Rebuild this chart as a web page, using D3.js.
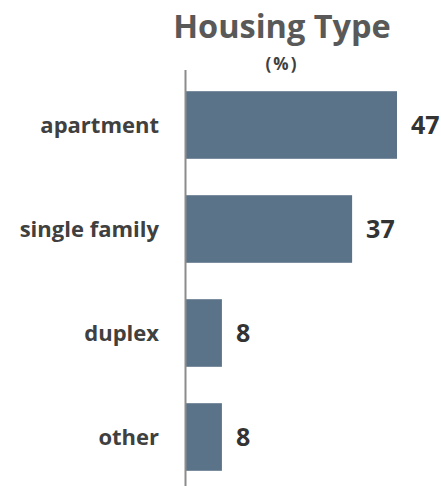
<!DOCTYPE html>
<html>
<head>
<meta charset="utf-8">
<script src="https://cdn.jsdelivr.net/npm/d3@7"></script>
<style>
  body { margin: 0; background: #fff; }
</style>
</head>
<body>
<svg id="chart"></svg>
<script>
const categories = ["apartment", "single family", "duplex", "other"];
const values = [47, 37, 8, 8];
const title = "Housing Type";
const subtitle = "(%)";

const width = 441;
const height = 486;
const font = "'Open Sans', Lato, sans-serif";

const svg = d3.select("#chart").attr("width", width).attr("height", height);

const x = d3.scaleLinear().domain([0, 47]).range([186, 397]);
const y = d3.scaleBand().domain(categories).range([73, 489])
    .paddingInner(0.35).paddingOuter(0.175);

svg.append("text")
    .attr("x", 282)
    .attr("y", 38)
    .attr("text-anchor", "middle")
    .attr("font-family", font)
    .attr("font-weight", "bold")
    .attr("font-size", "32.5px")
    .attr("fill", "#595959")
    .text(title);

svg.append("text")
    .attr("x", 282)
    .attr("y", 70)
    .attr("text-anchor", "middle")
    .attr("font-family", font)
    .attr("font-weight", "bold")
    .attr("font-size", "17px")
    .attr("letter-spacing", "2px")
    .attr("fill", "#404040")
    .text(subtitle);

svg.append("g").selectAll("rect")
    .data(values)
    .enter()
    .append("rect")
    .attr("x", x(0))
    .attr("y", function (d, i) { return y(categories[i]); })
    .attr("width", function (d) { return x(d) - x(0); })
    .attr("height", y.bandwidth())
    .attr("fill", "#5b7389");

// vertical axis line
svg.append("line")
    .attr("x1", x(0) - 0.5).attr("x2", x(0) - 0.5)
    .attr("y1", 70).attr("y2", 486)
    .attr("stroke", "#8c8c8c")
    .attr("stroke-width", 2);

svg.append("g").selectAll("text")
    .data(categories)
    .enter()
    .append("text")
    .attr("x", 159)
    .attr("y", function (d) { return y(d) + y.bandwidth() / 2; })
    .attr("dy", "0.35em")
    .attr("text-anchor", "end")
    .attr("font-family", font)
    .attr("font-weight", "bold")
    .attr("font-size", "22px")
    .attr("fill", "#404040")
    .text(function (d) { return d; });

svg.append("g").selectAll("text")
    .data(values)
    .enter()
    .append("text")
    .attr("x", function (d) { return x(d) + 14; })
    .attr("y", function (d, i) { return y(categories[i]) + y.bandwidth() / 2; })
    .attr("dy", "0.35em")
    .attr("font-family", font)
    .attr("font-weight", "bold")
    .attr("font-size", "25px")
    .attr("fill", "#333")
    .text(function (d) { return d; });
</script>
</body>
</html>
